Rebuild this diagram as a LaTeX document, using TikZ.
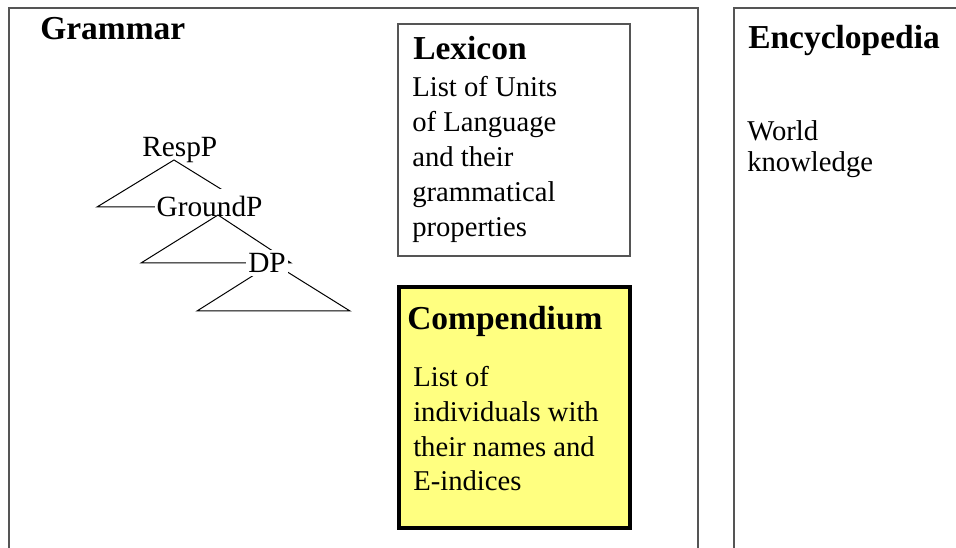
\documentclass[tikz,border=0pt]{standalone}
\usepackage{fontspec}
\setmainfont{Liberation Serif}
\definecolor{frame}{RGB}{85,85,85}
\definecolor{compfill}{RGB}{255,255,128}
\tikzset{
  x=0.75pt, y=-0.75pt,
  frameline/.style={draw=frame, line width=0.8pt},
  treeline/.style={draw=black, line width=0.75pt},
  heading/.style={inner sep=0pt, anchor=base west, font=\fontsize{25.1pt}{28pt}\selectfont\bfseries},
  bodyline/.style={inner sep=0pt, anchor=base west, font=\fontsize{21.5pt}{24pt}\selectfont},
  treelabel/.style={anchor=base west, font=\fontsize{22pt}{24pt}\selectfont}
}
\begin{document}
\begin{tikzpicture}
\useasboundingbox (0,0) rectangle (956,548);

% outer frames, open at the bottom
\draw[frameline] (9,548) -- (9,8) -- (698,8) -- (698,548);
\draw[frameline] (734,548) -- (734,8) -- (956,8);

% lexicon box
\draw[frameline] (398,24) rectangle (630,256);

% compendium box
\draw[line width=2.6pt, fill=compfill] (399,287) rectangle (630,528);

% headings
\node[heading] (gram) at (40,40) {Grammar};
\node[heading] (lex) at (413,60) {Lexicon};
\node[heading] (comp) at (407,330) {Compendium};
\node[heading] (ency) at (748,49) {Encyclopedia};

% lexicon text, one line per node
\node[bodyline] (lex1) at (412,97) {List of Units};
\node[bodyline] (lex2) at (412,132) {of Language};
\node[bodyline] (lex3) at (412,167) {and their};
\node[bodyline] (lex4) at (412,202) {grammatical};
\node[bodyline] (lex5) at (412,237) {properties};

% compendium text
\node[bodyline] (comp1) at (413,387) {List of};
\node[bodyline] (comp2) at (413,421.5) {individuals with};
\node[bodyline] (comp3) at (413,456) {their names and};
\node[bodyline] (comp4) at (413,490) {E-indices};

% encyclopedia text
\node[bodyline] (ency1) at (747,141) {World};
\node[bodyline] (ency2) at (747,172) {knowledge};

% tree: corners of the three triangles
\coordinate (aTop) at (174,160);
\coordinate (aL) at (97,207);
\coordinate (aR) at (250,207);
\coordinate (bTop) at (218,215);
\coordinate (bL) at (141,263);
\coordinate (bR) at (291,263);
\coordinate (cTop) at (273,263);
\coordinate (cL) at (197,311);
\coordinate (cR) at (350,311);

\draw[treeline] (aTop) -- (aL) -- (aR) -- cycle;
\node[treelabel, fill=white, inner xsep=1pt, inner ysep=6pt] (ground) at (155,217) {GroundP};
\draw[treeline] (bTop) -- (bL) -- (bR) -- cycle;
\draw[treeline] (cTop) -- (cL) -- (cR) -- cycle;
\node[treelabel, fill=white, inner xsep=1.5pt, inner ysep=2.5pt] (dp) at (246,273) {DP};
\node[treelabel, inner sep=0pt] (resp) at (142,157) {RespP};
\end{tikzpicture}
\end{document}
